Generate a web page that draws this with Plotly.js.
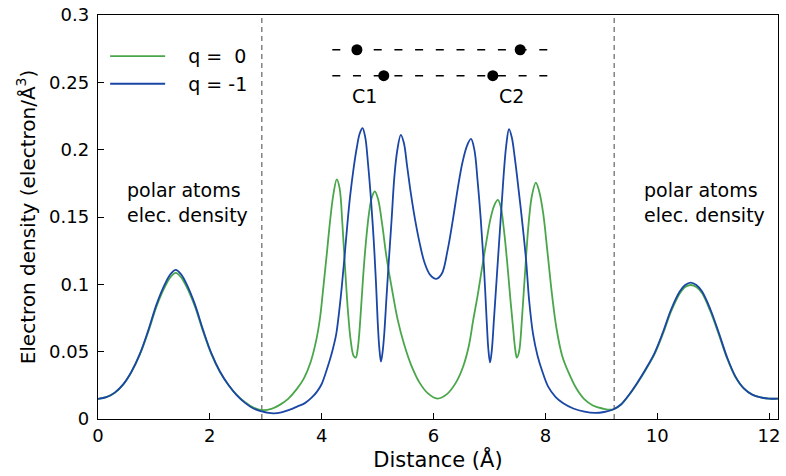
<!DOCTYPE html>
<html>
<head>
<meta charset="utf-8">
<script src="https://cdn.plot.ly/plotly-3.0.1.min.js"></script>
<style>html,body{margin:0;padding:0;background:#fff;}#chart{width:786px;height:476px;}</style>
</head>
<body>
<div id="chart"></div>
<script>
// q = 0 (green)
const xQ0 = [0,0.15,0.30,0.45,0.60,0.75,0.90,1.05,1.20,1.30,1.39,1.48,1.58,1.73,1.88,2.03,2.18,2.33,2.48,2.63,2.78,2.93,
  3.10,3.25,3.40,3.55,3.68,3.80,3.90,3.97,4.03,4.09,4.15,4.21,4.27,4.32,4.37,4.42,4.47,4.52,4.57,4.61,4.65,4.69,4.74,4.79,4.85,4.90,4.95,
  5.01,5.08,5.16,5.25,5.36,5.47,5.60,5.75,5.90,6.07,6.24,6.40,6.53,6.63,6.71,6.79,6.87,6.95,7.02,7.09,7.15,7.20,7.26,7.32,7.37,7.42,7.46,7.49,7.53,
  7.58,7.64,7.70,7.76,7.83,7.89,7.96,8.04,8.12,8.20,8.30,8.42,8.55,8.70,8.85,9.02,9.20,
  9.35,9.50,9.65,9.80,9.95,10.10,10.25,10.40,10.50,10.60,10.70,10.80,10.95,11.10,11.25,11.40,11.55,11.70,11.85,12.00,12.16];
const yQ0 = [0.0150,0.0162,0.0195,0.0255,0.0350,0.0480,0.0650,0.0840,0.0985,0.1055,0.1085,0.1055,0.0985,0.0840,0.0650,0.0480,0.0350,0.0255,0.0180,0.0125,0.0085,0.0066,
  0.0075,0.0105,0.0150,0.0220,0.0300,0.0420,0.0580,0.0750,0.0980,0.1220,0.1470,0.1670,0.1780,0.1715,0.1450,0.1110,0.0800,0.0580,0.0470,0.0456,0.0540,0.0736,0.1050,0.1310,0.1540,0.1650,0.1690,
  0.1630,0.1450,0.1200,0.0980,0.0736,0.0560,0.0400,0.0270,0.0190,0.0152,0.0185,0.0270,0.0390,0.0540,0.0736,0.0920,0.1130,0.1330,0.1490,0.1590,0.1627,0.1580,0.1400,0.1150,0.0910,0.0690,0.0520,0.0456,0.0500,
  0.0736,0.1110,0.1450,0.1660,0.1756,0.1690,0.1530,0.1230,0.0920,0.0670,0.0470,0.0340,0.0230,0.0145,0.0100,0.0078,0.0070,
  0.0105,0.0180,0.0270,0.0370,0.0480,0.0630,0.0800,0.0930,0.0980,0.0995,0.0980,0.0935,0.0800,0.0630,0.0450,0.0310,0.0225,0.0180,0.0160,0.0151,0.0152];

// q = -1 (blue)
const xQm1 = [0,0.15,0.30,0.45,0.60,0.75,0.90,1.05,1.20,1.30,1.39,1.48,1.58,1.73,1.88,2.03,2.18,2.33,2.48,2.63,2.78,2.93,
  3.05,3.14,3.28,3.42,3.56,3.70,3.82,3.92,4.00,4.07,4.14,4.20,4.26,4.31,4.36,4.41,4.46,4.51,4.57,4.63,4.68,4.73,4.78,4.83,4.88,4.93,4.97,5.00,5.03,5.06,5.09,5.12,5.16,5.20,5.25,5.30,5.35,5.415,
  5.47,5.53,5.60,5.67,5.75,5.84,5.94,6.05,6.15,6.25,6.35,6.44,6.52,6.60,6.67,6.73,6.79,6.845,6.90,6.95,6.98,7.01,7.04,7.08,7.14,7.20,7.25,7.30,7.35,
  7.40,7.45,7.50,7.55,7.60,7.655,7.71,7.78,7.86,7.94,8.05,8.18,8.32,8.50,8.70,8.89,9.05,9.22,
  9.35,9.50,9.65,9.80,9.95,10.10,10.25,10.40,10.50,10.60,10.70,10.80,10.95,11.10,11.25,11.40,11.55,11.70,11.85,12.00,12.16];
const yQm1 = [0.0150,0.0162,0.0196,0.0257,0.0353,0.0485,0.0660,0.0855,0.1005,0.1077,0.1107,0.1077,0.1005,0.0855,0.0660,0.0485,0.0353,0.0255,0.0178,0.0120,0.0078,0.0056,
  0.0045,0.0042,0.0050,0.0068,0.0092,0.0118,0.0158,0.0205,0.0260,0.0340,0.0430,0.0520,0.0630,0.0790,0.0985,0.1210,0.1450,0.1660,0.1860,0.2020,0.2120,0.2160,0.2090,0.1890,0.1640,0.1330,0.1020,0.0736,0.0530,0.0426,0.0500,0.0640,0.0910,0.1170,0.1480,0.1800,0.1990,0.2110,
  0.2050,0.1870,0.1660,0.1480,0.1310,0.1160,0.1070,0.1040,0.1080,0.1250,0.1490,0.1730,0.1910,0.2030,0.2080,0.2000,0.1760,0.1480,0.1140,0.0736,0.0520,0.0420,0.0500,0.0736,0.1110,0.1480,0.1790,0.2030,0.2153,
  0.2090,0.1950,0.1780,0.1600,0.1410,0.1180,0.0880,0.0630,0.0470,0.0360,0.0240,0.0165,0.0117,0.0078,0.0054,0.0045,0.0052,0.0072,
  0.0108,0.0182,0.0273,0.0375,0.0488,0.0642,0.0815,0.0945,0.0995,0.1013,0.0995,0.0948,0.0815,0.0642,0.0458,0.0315,0.0227,0.0181,0.0160,0.0151,0.0152];

// Molecule sketch: carbon positions for the two charge states
const chainX = [4.19, 8.05];
const rowQ0Y = 0.2742, rowQm1Y = 0.2549;
const carbonQ0X = [4.63, 7.55];
const carbonQm1X = [5.11, 7.06];
const carbonLabels = ['C1', 'C2'];
const carbonLabelX = [4.76, 7.40];
const carbonLabelY = 0.240;

// Boundaries of the polar region
const boundaryX = [2.93, 9.23];

const xTicks = [0, 2, 4, 6, 8, 10, 12];
const yTicks = [0, 0.05, 0.1, 0.15, 0.2, 0.25, 0.3];
const yTickText = ['0', '0.05', '0.1', '0.15', '0.2', '0.25', '0.3'];

const FONT = 'DejaVu Sans, sans-serif';
const GREEN = '#4aa64a';
const BLUE = '#1a46a6';
const PAD = '\u00a0\u00a0\u00a0';

const traces = [
  {x: xQ0, y: yQ0, mode: 'lines', name: PAD + 'q =\u00a0\u00a00',
   line: {color: GREEN, width: 1.8, shape: 'spline', smoothing: 1}},
  {x: xQm1, y: yQm1, mode: 'lines', name: PAD + 'q = -1',
   line: {color: BLUE, width: 1.8, shape: 'spline', smoothing: 1}},
  {x: chainX, y: [rowQ0Y, rowQ0Y], mode: 'lines', showlegend: false, hoverinfo: 'skip',
   line: {color: '#000', width: 1.5, dash: '8px,12.7px'}},
  {x: chainX, y: [rowQm1Y, rowQm1Y], mode: 'lines', showlegend: false, hoverinfo: 'skip',
   line: {color: '#000', width: 1.5, dash: '8px,12.7px'}},
  {x: carbonQ0X, y: carbonQ0X.map(() => rowQ0Y), mode: 'markers', showlegend: false,
   marker: {color: '#000', size: 11}},
  {x: carbonQm1X, y: carbonQm1X.map(() => rowQm1Y), mode: 'markers', showlegend: false,
   marker: {color: '#000', size: 11}}
];

const shapes = boundaryX.map(bx => ({
  type: 'line', xref: 'x', yref: 'paper', x0: bx, x1: bx, y0: 0, y1: 1,
  line: {color: '#444', width: 1, dash: '5px,4px'}, layer: 'below'
}));

const annotations = [
  {x: 0.49, y: 0.161, xref: 'x', yref: 'y', text: 'polar atoms<br>elec. density', showarrow: false,
   xanchor: 'left', yanchor: 'middle', align: 'left', font: {family: FONT, size: 19, color: '#000'}},
  {x: 9.73, y: 0.161, xref: 'x', yref: 'y', text: 'polar atoms<br>elec. density', showarrow: false,
   xanchor: 'left', yanchor: 'middle', align: 'left', font: {family: FONT, size: 19, color: '#000'}}
].concat(carbonLabels.map((t, i) => ({
  x: carbonLabelX[i], y: carbonLabelY, xref: 'x', yref: 'y', text: t, showarrow: false,
  xanchor: 'center', yanchor: 'middle', font: {family: FONT, size: 19, color: '#000'}
})));

const layout = {
  width: 786, height: 476,
  margin: {l: 98, r: 8, t: 15, b: 57},
  paper_bgcolor: '#fff', plot_bgcolor: '#fff',
  font: {family: FONT, color: '#000', size: 18},
  showlegend: true,
  legend: {x: 0.0105, y: 0.945, xanchor: 'left', yanchor: 'top', bgcolor: 'rgba(0,0,0,0)',
           font: {family: FONT, size: 19, color: '#000'}, itemwidth: 55, tracegroupgap: 0},
  xaxis: {range: [0, 12.16], tickvals: xTicks, ticktext: xTicks.map(String),
          ticks: 'inside', ticklen: 6, tickcolor: '#000', tickwidth: 1,
          showline: true, linecolor: '#000', linewidth: 1.2, mirror: true,
          showgrid: false, zeroline: false,
          tickfont: {family: FONT, size: 18, color: '#000'},
          title: {text: 'Distance (Å)', font: {family: FONT, size: 21, color: '#000'}, standoff: 5}},
  yaxis: {range: [0, 0.3], tickvals: yTicks, ticktext: yTickText,
          ticks: 'inside', ticklen: 6, tickcolor: '#000', tickwidth: 1,
          showline: true, linecolor: '#000', linewidth: 1.2, mirror: true,
          showgrid: false, zeroline: false, ticklabelstandoff: 4,
          tickfont: {family: FONT, size: 18, color: '#000'},
          title: {text: 'Electron density (electron/Å<sup>3</sup>)', font: {family: FONT, size: 20, color: '#000'}, standoff: 8}},
  shapes: shapes,
  annotations: annotations
};

Plotly.newPlot('chart', traces, layout, {displayModeBar: false, staticPlot: true});
</script>
</body>
</html>
